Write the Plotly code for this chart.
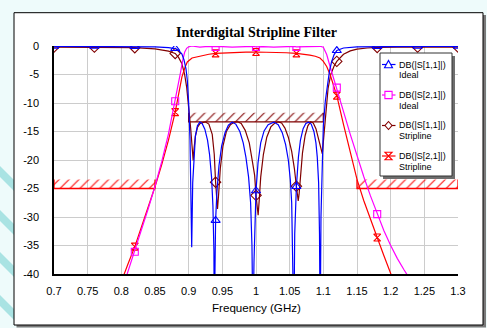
import plotly.graph_objects as go

# ---------------- data ----------------
s11_ideal_f = [0.70, 0.76, 0.82, 0.85, 0.87, 0.88, 0.885, 0.89, 0.893, 0.896,
               0.898, 0.900, 0.902, 0.9035, 0.9045, 0.906, 0.908, 0.910, 0.913, 0.9166,
               0.920, 0.924, 0.928, 0.931, 0.934, 0.936, 0.9375, 0.938, 0.939, 0.940,
               0.942, 0.945, 0.949, 0.954, 0.959, 0.9646, 0.970, 0.976, 0.981, 0.985,
               0.989, 0.992, 0.994, 0.9955, 0.997, 0.9985, 1.000, 1.003, 1.007, 1.012,
               1.018, 1.0264, 1.033, 1.039, 1.044, 1.048, 1.051, 1.053, 1.0548, 1.0562,
               1.0575, 1.060, 1.063, 1.066, 1.070, 1.074, 1.078, 1.082, 1.086, 1.089,
               1.091, 1.093, 1.0943, 1.0953, 1.0965, 1.098, 1.100, 1.103, 1.106, 1.109,
               1.112, 1.116, 1.120, 1.130, 1.150, 1.180, 1.240, 1.300]
s11_ideal_db = [-0.05, -0.05, -0.08, -0.15, -0.3, -0.45, -0.75, -1.4, -2.4, -4.0,
                -6.0, -10.0, -16.5, -25.0, -35.3, -24.0, -18.5, -15.8, -14.0, -13.35,
                -13.6, -14.6, -16.5, -19.0, -23.0, -28.0, -36.0, -50.0, -40.0, -30.6,
                -25.5, -21.0, -17.5, -15.2, -13.9, -13.35, -13.7, -15.0, -17.0, -19.5,
                -23.0, -27.5, -35.0, -50.0, -38.0, -30.0, -25.4, -20.5, -17.0, -14.9,
                -13.8, -13.35, -13.8, -15.2, -17.3, -20.0, -23.5, -27.5, -35.0, -50.0,
                -33.0, -24.65, -19.5, -16.5, -14.5, -13.6, -13.35, -13.7, -15.0, -17.0,
                -19.5, -24.0, -33.0, -50.0, -30.0, -20.0, -14.0, -9.6, -6.5, -4.5,
                -2.9, -1.5, -0.8, -0.35, -0.15, -0.08, -0.05, -0.05]

s21_ideal_f = [0.795, 0.8088, 0.82, 0.83, 0.84, 0.85, 0.86, 0.87, 0.88, 0.884,
               0.888, 0.891, 0.894, 0.897, 0.900, 0.9045, 0.910, 0.9166, 0.925, 0.938,
               0.940, 0.950, 0.9646, 0.980, 0.9955, 1.000, 1.010, 1.0264, 1.040, 1.0562,
               1.060, 1.067, 1.078, 1.087, 1.0953, 1.100, 1.105, 1.110, 1.115, 1.120,
               1.130, 1.140, 1.150, 1.160, 1.170, 1.180, 1.190, 1.200, 1.210, 1.220,
               1.230, 1.240]
s21_ideal_db = [-45.0, -40.0, -36.1, -32.3, -28.5, -24.6, -20.3, -15.4, -9.7, -7.0,
                -4.6, -2.6, -1.1, -0.4, -0.15, 0.0, -0.12, -0.2, -0.1, -0.05,
                -0.15, -0.1, -0.2, -0.1, -0.05, -0.15, -0.1, -0.2, -0.1, -0.05,
                -0.15, -0.12, -0.2, -0.1, -0.05, -0.2, -1.5, -3.6, -5.5, -7.3,
                -11.5, -15.5, -19.3, -22.9, -26.3, -29.5, -32.4, -35.0, -37.3, -39.3,
                -41.2, -43.0]

s11_strip_f = [0.70, 0.76, 0.82, 0.85, 0.87, 0.88, 0.885, 0.89, 0.894, 0.897,
               0.900, 0.903, 0.905, 0.9067, 0.908, 0.910, 0.913, 0.917, 0.9245, 0.930,
               0.935, 0.938, 0.940, 0.9415, 0.9428, 0.9445, 0.947, 0.951, 0.956, 0.962,
               0.968, 0.9728, 0.978, 0.984, 0.990, 0.995, 0.998, 1.000, 1.0018, 1.0032,
               1.0048, 1.007, 1.011, 1.016, 1.022, 1.028, 1.033, 1.038, 1.043, 1.048,
               1.053, 1.057, 1.060, 1.0615, 1.0627, 1.064, 1.066, 1.069, 1.073, 1.077,
               1.081, 1.085, 1.089, 1.093, 1.096, 1.0985, 1.101, 1.104, 1.107, 1.111,
               1.116, 1.120, 1.125, 1.130, 1.140, 1.150, 1.165, 1.180, 1.210, 1.240,
               1.270, 1.300]
s11_strip_db = [-0.2, -0.2, -0.3, -0.5, -0.9, -1.3, -2.0, -3.1, -5.0, -7.2,
                -10.5, -14.5, -17.5, -20.1, -18.0, -15.8, -14.3, -13.6, -13.3, -13.7,
                -15.5, -19.0, -23.9, -27.0, -28.6, -26.0, -21.5, -17.5, -15.0, -13.8,
                -13.35, -13.3, -13.6, -14.8, -17.0, -20.5, -22.7, -26.2, -29.0, -29.7,
                -27.0, -23.0, -19.0, -16.0, -14.2, -13.5, -13.3, -13.5, -14.4, -16.0,
                -18.5, -21.5, -24.6, -26.5, -27.2, -26.0, -22.5, -18.8, -15.7, -14.0,
                -13.3, -13.5, -14.5, -16.2, -17.8, -18.9, -15.5, -11.0, -7.5, -5.0,
                -3.5, -2.7, -2.0, -1.45, -0.85, -0.55, -0.35, -0.25, -0.2, -0.2,
                -0.2, -0.2]

s21_strip_f = [0.79, 0.8039, 0.81, 0.82, 0.83, 0.84, 0.85, 0.86, 0.87, 0.88,
               0.885, 0.89, 0.895, 0.898, 0.905, 0.918, 0.930, 0.940, 0.955, 0.970,
               0.985, 1.000, 1.015, 1.030, 1.045, 1.060, 1.070, 1.080, 1.088, 1.095,
               1.100, 1.105, 1.110, 1.115, 1.120, 1.130, 1.140, 1.150, 1.160, 1.170,
               1.180, 1.190, 1.200, 1.210]
s21_strip_db = [-44.5, -40.0, -38.2, -35.2, -31.8, -28.3, -24.7, -20.8, -16.5, -11.6,
                -8.3, -5.4, -3.6, -2.8, -2.1, -1.7, -1.45, -1.3, -1.18, -1.1,
                -1.06, -1.05, -1.06, -1.1, -1.18, -1.3, -1.42, -1.6, -1.8, -2.1,
                -2.7, -3.6, -5.0, -6.8, -8.7, -13.8, -18.8, -23.4, -27.1, -30.5,
                -33.6, -36.8, -39.8, -43.0]

marker_f = [0.70, 0.76, 0.82, 0.88, 0.94, 1.00, 1.06, 1.12, 1.18, 1.24, 1.30]

# spec limit masks
stop_lo_f = [0.70, 0.85]
stop_hi_f = [1.15, 1.30]
stop_db = -25.0
pass_f = [0.90, 1.10]
pass_db = -13.3

x_ticks = [0.7, 0.75, 0.8, 0.85, 0.9, 0.95, 1.0, 1.05, 1.1, 1.15, 1.2, 1.25, 1.3]
x_labels = ["0.7", "0.75", "0.8", "0.85", "0.9", "0.95", "1", "1.05", "1.1", "1.15", "1.2", "1.25", "1.3"]
y_ticks = [0, -5, -10, -15, -20, -25, -30, -35, -40]
y_labels = ["0", "-5", "-10", "-15", "-20", "-25", "-30", "-35", "-40"]

legend_names = [("DB(|S[1,1]|)", "Ideal"), ("DB(|S[2,1]|)", "Ideal"),
                ("DB(|S[1,1]|)", "Stripline"), ("DB(|S[2,1]|)", "Stripline")]

# ---------------- styling ----------------
W, H = 487, 328
ML, MR, MT, MB = 54, 29, 46, 54
PW, PH = W - ML - MR, H - MT - MB
SANS = "Liberation Sans, Arial, sans-serif"
SERIF = "Liberation Serif, Times New Roman, serif"
BLUE, MAG, DRED, RED = "#0000ff", "#ff00ff", "#800000", "#ff0000"
HATCH_H = 1.6


def px(x):
    return (x - ML) / PW


def py(y):
    return 1 - (y - MT) / PH


fig = go.Figure()


def hatch(fx, level, color):
    fig.add_trace(go.Scatter(
        x=[fx[0], fx[1], fx[1], fx[0], fx[0]],
        y=[level, level, level + HATCH_H, level + HATCH_H, level],
        mode="lines", fill="toself", line=dict(width=0),
        fillcolor="rgba(0,0,0,0)",
        fillpattern=dict(shape="/", fgcolor=color, bgcolor="rgba(255,255,255,0)",
                         fgopacity=1, size=7, solidity=0.15),
        hoverinfo="skip", showlegend=False))
    fig.add_trace(go.Scatter(
        x=[fx[0], fx[0], fx[1], fx[1]],
        y=[level + HATCH_H, level, level, level + HATCH_H],
        mode="lines", line=dict(color=color, width=1.3),
        hoverinfo="skip", showlegend=False))


hatch(stop_lo_f, stop_db, RED)
hatch(stop_hi_f, stop_db, RED)
hatch(pass_f, pass_db, DRED)

series = [
    (s11_strip_f, s11_strip_db, DRED, "diamond-open", 8),
    (s21_strip_f, s21_strip_db, RED, "hourglass-open", 7),
    (s21_ideal_f, s21_ideal_db, MAG, "square-open", 7),
    (s11_ideal_f, s11_ideal_db, BLUE, "triangle-up-open", 8),
]
for fx, fy, col, sym, msz in series:
    fig.add_trace(go.Scatter(x=fx, y=fy, mode="lines",
                             line=dict(color=col, width=1.2),
                             hoverinfo="skip", showlegend=False))
    lookup = {round(a, 4): b for a, b in zip(fx, fy)}
    mx = [m for m in marker_f if round(m, 4) in lookup and lookup[round(m, 4)] >= -40]
    my = [lookup[round(m, 4)] for m in mx]
    fig.add_trace(go.Scatter(x=mx, y=my, mode="markers", cliponaxis=True,
                             marker=dict(symbol=sym, size=msz, color=col,
                                         line=dict(color=col, width=1.1)),
                             hoverinfo="skip", showlegend=False))

shapes = []
# page decoration stripes at the left edge
for y0 in [166, 210, 252, 295]:
    shapes.append(dict(type="path", xref="paper", yref="paper", layer="below",
                       path=f"M {px(0)},{py(y0)} L {px(16)},{py(y0 + 16)} L {px(16)},{py(y0 + 27)} L {px(0)},{py(y0 + 11)} Z",
                       fillcolor="#a9e3e3", line=dict(width=0)))
# frame with shadow
shapes.append(dict(type="rect", xref="paper", yref="paper", layer="below",
                   x0=px(16.5), x1=px(486), y0=py(15), y1=py(327.5),
                   fillcolor="#7a7a7a", line=dict(width=0)))
shapes.append(dict(type="rect", xref="paper", yref="paper", layer="below",
                   x0=px(14), x1=px(483), y0=py(12.7), y1=py(325),
                   fillcolor="white", line=dict(color="black", width=1)))
# legend box with shadow
LX0, LX1, LY0, LY1 = 380, 452, 53, 176
shapes.append(dict(type="rect", xref="paper", yref="paper", layer="above",
                   x0=px(LX0 + 3), x1=px(LX1 + 3), y0=py(LY0 + 3), y1=py(LY1 + 3),
                   fillcolor="#6e6e6e", line=dict(width=0)))
shapes.append(dict(type="rect", xref="paper", yref="paper", layer="above",
                   x0=px(LX0), x1=px(LX1), y0=py(LY0), y1=py(LY1),
                   fillcolor="white", line=dict(color="#333333", width=1)))

annotations = []
leg_cols = [BLUE, MAG, DRED, RED]
row0, rowstep, sx, tx = 64.5, 30.5, 388.5, 396.5
for i, (l1, l2) in enumerate(legend_names):
    cy = row0 + rowstep * i
    col = leg_cols[i]
    shapes.append(dict(type="line", xref="paper", yref="paper", layer="above",
                       x0=px(382), x1=px(395.5), y0=py(cy), y1=py(cy),
                       line=dict(color=col, width=1.2)))
    if i == 0:
        pts = [(sx - 4, cy + 3.2), (sx + 4, cy + 3.2), (sx, cy - 4)]
    elif i == 1:
        pts = [(sx - 3.6, cy - 3.6), (sx + 3.6, cy - 3.6), (sx + 3.6, cy + 3.6), (sx - 3.6, cy + 3.6)]
    elif i == 2:
        pts = [(sx, cy - 4), (sx + 3.5, cy), (sx, cy + 4), (sx - 3.5, cy)]
    else:
        pts = [(sx - 3.6, cy - 3.8), (sx + 3.6, cy - 3.8), (sx - 3.6, cy + 3.8), (sx + 3.6, cy + 3.8)]
    path = "M " + " L ".join(f"{px(a)},{py(b)}" for a, b in pts) + " Z"
    shapes.append(dict(type="path", xref="paper", yref="paper", layer="above",
                       path=path, fillcolor="white", line=dict(color=col, width=1.1)))
    annotations.append(dict(text=l1, x=px(tx), y=py(cy), xref="paper", yref="paper",
                            xanchor="left", yanchor="middle", showarrow=False,
                            font=dict(family=SANS, size=9, color="black")))
    annotations.append(dict(text=l2, x=px(tx), y=py(cy + 10.5), xref="paper", yref="paper",
                            xanchor="left", yanchor="middle", showarrow=False,
                            font=dict(family=SANS, size=9, color="black")))

annotations.append(dict(text="<b>Interdigital Stripline Filter</b>", x=0.5, y=py(33),
                        xref="paper", yref="paper", xanchor="center", yanchor="middle",
                        showarrow=False, font=dict(family=SERIF, size=14, color="black")))
annotations.append(dict(text="Frequency (GHz)", x=0.5, y=py(307), xref="paper", yref="paper",
                        xanchor="center", yanchor="middle", showarrow=False,
                        font=dict(family=SANS, size=11.6, color="black")))

axis_common = dict(showgrid=True, gridcolor="#cccccc", gridwidth=1.3, zeroline=False,
                   showline=True, linecolor="black", linewidth=1.5,
                   ticks="outside", tickcolor="rgba(0,0,0,0)",
                   tickfont=dict(family=SANS, size=11, color="black"))
fig.update_layout(
    width=W, height=H,
    margin=dict(l=ML, r=MR, t=MT, b=MB, pad=0),
    paper_bgcolor="#eefbfb", plot_bgcolor="white",
    showlegend=False,
    xaxis=dict(range=[0.7, 1.3], tickvals=x_ticks, ticktext=x_labels, ticklen=6, **axis_common),
    yaxis=dict(range=[-40, 0], tickvals=y_ticks, ticktext=y_labels, ticklen=11, **axis_common),
    shapes=shapes, annotations=annotations,
)
fig.write_html("out.html", config={"displayModeBar": False},
               post_script="document.body.style.margin='0';document.body.style.padding='0';")
